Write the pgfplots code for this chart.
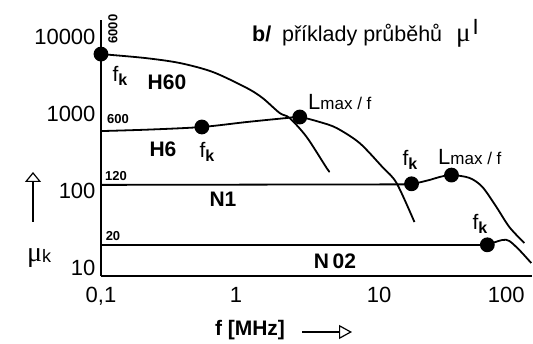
\documentclass[border=0pt]{standalone}
\usepackage{pgfplots}
\pgfplotsset{compat=1.18}
\usepackage{fontspec}
\setmainfont{Liberation Sans}
\newfontfamily\serif{Liberation Serif}
\usetikzlibrary{arrows.meta}

\begin{document}
\begin{tikzpicture}
\begin{axis}[
  scale only axis, width=431pt, height=256pt,
  xmode=log, ymode=log,
  xmin=0.1, xmax=155, ymin=7.87, ymax=16630,
  axis x line=bottom, axis y line=left,
  axis line style={-, line width=1.8pt},
  xtick={0.1,1,10,100}, xticklabels={{0,1},1,\hspace{16pt}10,100},
  ytick={10,100,1000,10000}, yticklabels={10,100,1000,10000},
  major tick length=0pt, minor tick length=0pt,
  tick label style={font=\fontsize{22}{22}\selectfont},
  xticklabel style={yshift=-8pt},
  yticklabel style={xshift=-2pt},
  clip=false,
  every axis plot/.append style={line width=1.8pt, black},
]
% H60
\addplot[black, no markers, smooth, tension=0.5] coordinates {
 (0.1,6000) (0.211,5340) (0.384,4590) (0.673,3510) (1.20,2177) (1.57,1614)
 (2.10,1031) (2.49,887) (3.33,502) (4.68,199) (4.93,177)};
% H6
\addplot[black, no markers, smooth, tension=0.5] coordinates {
 (0.1,600) (0.230,628) (0.558,678) (1.20,787) (2.37,887) (2.96,914)
 (4.16,787) (5.55,657) (8.20,420) (12.1,205) (15.4,127) (20.9,39.5)};
% N1
\addplot[black, no markers, sharp plot] coordinates {(0.1,120) (19.9,122)};
\addplot[black, no markers, smooth, tension=0.5] coordinates {
 (19.9,122) (27.0,139) (32.1,152) (39.3,161) (53.3,148) (66.5,113)
 (84.5,62) (105.4,34) (136,21.1)};
% N02
\addplot[black, no markers, sharp plot] coordinates {(0.1,20) (72.4,20)};
\addplot[black, no markers, smooth, tension=0.5] coordinates {
 (72.4,20) (93.5,23.1) (105.4,22.4) (125,17.1) (153,11.6)};
% dots
\addplot[black, only marks, mark=*, mark size=6.5pt] coordinates {
 (0.1,6000) (0.558,678) (2.96,914) (19.9,124) (39.3,161) (72.4,20)};
\end{axis}

% value labels
\node[rotate=90, font=\bfseries\fontsize{13}{13}\selectfont] at (12pt,247pt) {6000};
\node[font=\bfseries\fontsize{13}{13}\selectfont] at (17pt,157pt) {600};
\node[font=\bfseries\fontsize{13}{13}\selectfont] at (15pt,100pt) {120};
\node[font=\bfseries\fontsize{13}{13}\selectfont] at (12pt,40pt) {20};

% f_k labels
\newcommand{\fk}{{\fontsize{21}{21}\selectfont f}\raisebox{-4pt}{\bfseries\fontsize{16}{16}\selectfont k}}
\node at (19pt,200pt) {\fk};
\node at (106pt,124pt) {\fk};
\node at (309pt,116pt) {\fk};
\node at (379pt,52pt) {\fk};

% Lmax / f
\newcommand{\lmax}{{\fontsize{22}{22}\selectfont L}{\fontsize{17}{17}\selectfont max / f}}
\node[anchor=west, inner sep=0pt] at (207pt,174pt) {\lmax};
\node[anchor=west, inner sep=0pt] at (337pt,119pt) {\lmax};

% material labels
\node[font=\bfseries\fontsize{21}{21}\selectfont] at (66pt,194pt) {H60};
\node[font=\bfseries\fontsize{21}{21}\selectfont] at (62pt,127pt) {H6};
\node[font=\bfseries\fontsize{21}{21}\selectfont] at (122pt,77pt) {N1};
\node[font=\bfseries\fontsize{21}{21}\selectfont] at (234pt,15pt) {N\,02};

% title
\node[anchor=base west, inner sep=0pt, font=\fontsize{21.5}{21.5}\selectfont] at (151pt,234pt)
  {\textbf{b/}\enspace příklady průběhů};
\node[anchor=base west, inner sep=0pt] at (355pt,234pt)
  {{\serif\fontsize{27}{27}\selectfont μ}\hspace{2pt}\raisebox{7pt}{\fontsize{22}{22}\selectfont I}};

% y label
\draw[line width=1.2pt, -{Triangle[open, width=16pt, length=10pt, line width=1.2pt]}] (-68pt,54pt) -- (-68pt,104pt);
\node[anchor=base west, inner sep=0pt] at (-74pt,15pt)
  {{\serif\fontsize{28}{28}\selectfont μ}\raisebox{-1pt}{\fontsize{18}{18}\selectfont k}};

% x label
\node[font=\bfseries\fontsize{21}{21}\selectfont] at (149pt,-54pt) {f [MHz]};
\draw[line width=1.2pt, -{Triangle[open, width=14pt, length=13pt, line width=1.2pt]}] (201pt,-56pt) -- (251pt,-56pt);

\pgfresetboundingbox
\path[use as bounding box] (-101pt,-67pt) rectangle (432pt,276pt);
\end{tikzpicture}
\end{document}
